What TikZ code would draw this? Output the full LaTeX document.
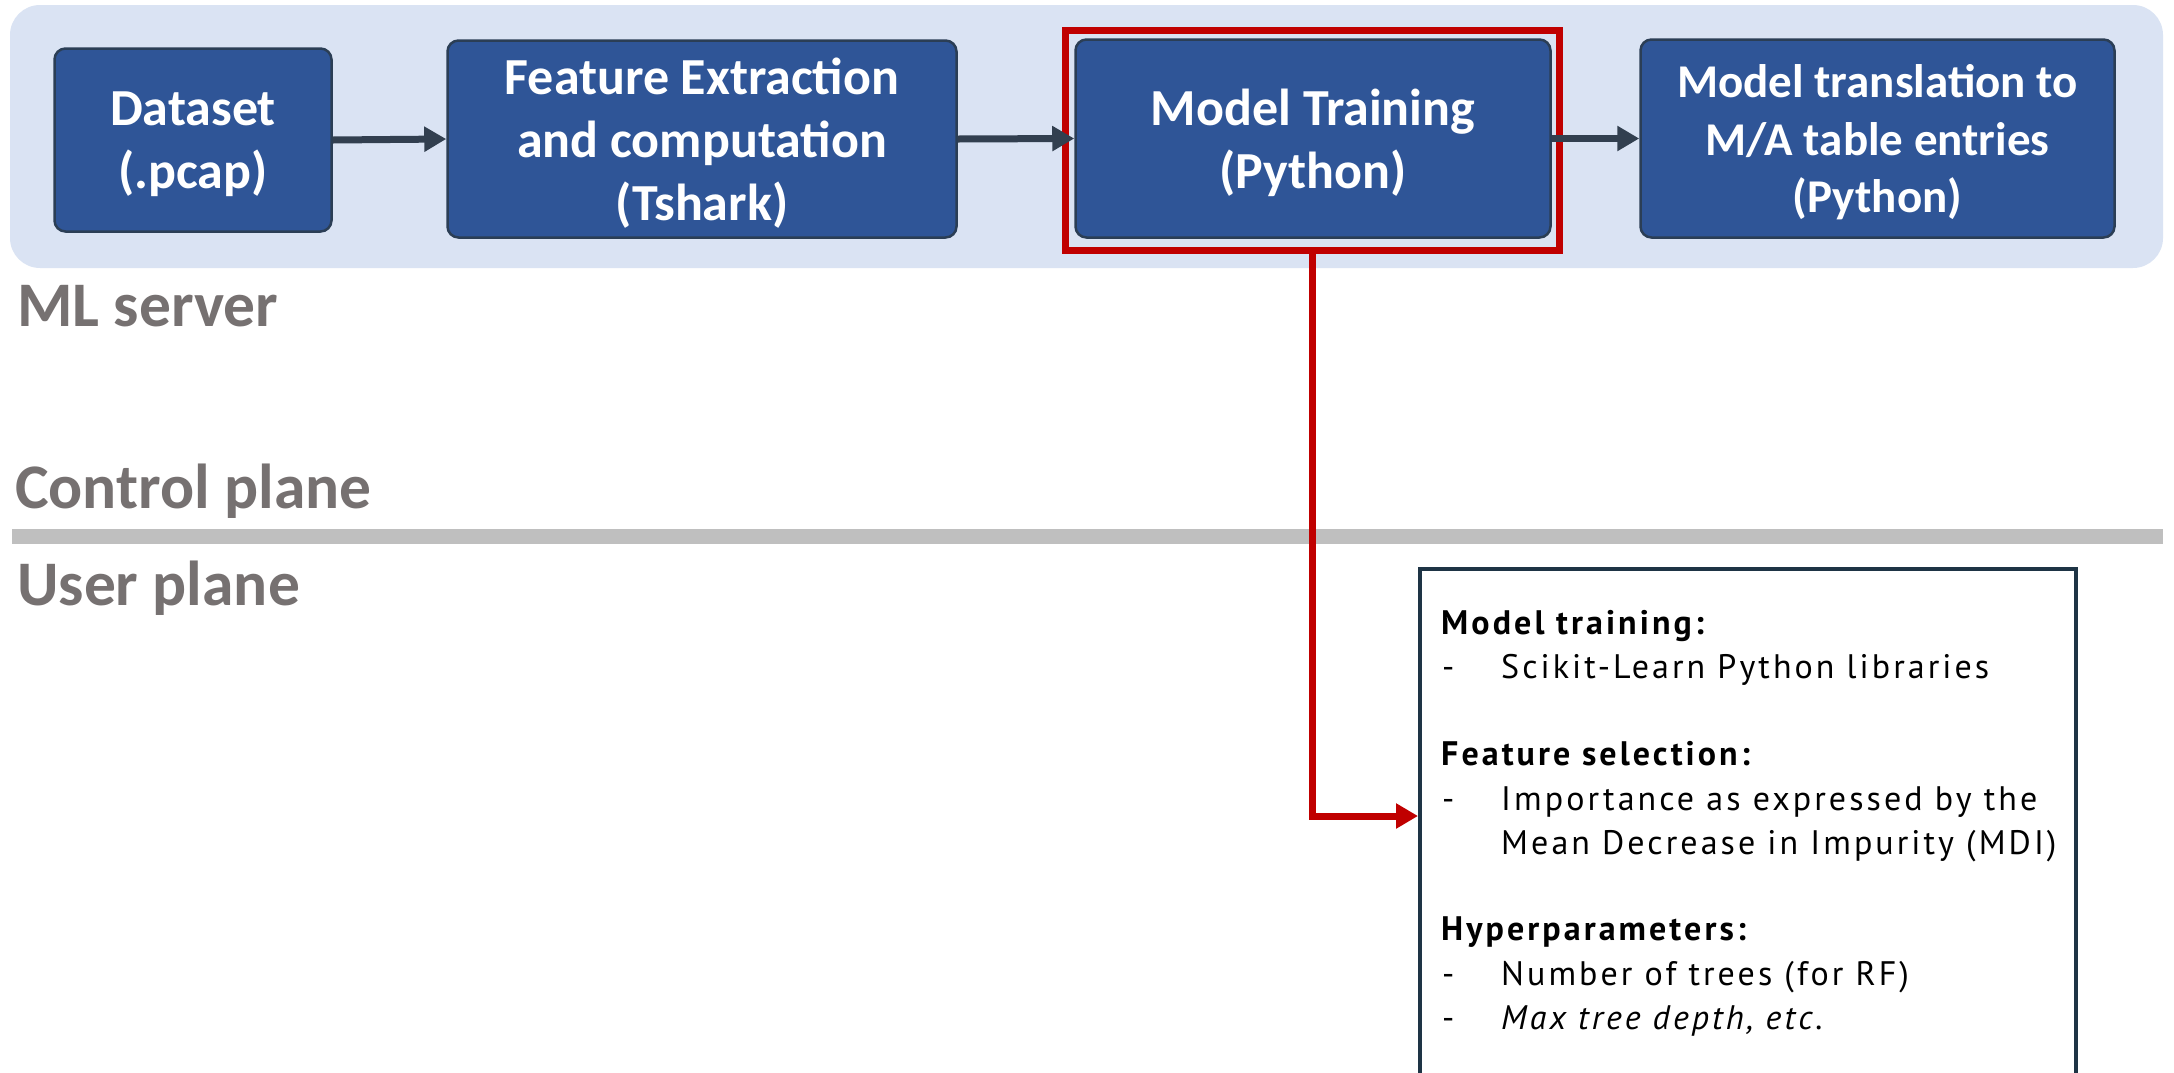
\documentclass[tikz,border=0pt]{standalone}
\usepackage{fontspec}
\setmainfont{Carlito}
\newfontfamily\notefont[LetterSpace=9]{PT Sans}
\usetikzlibrary{arrows.meta}
\definecolor{panel}{HTML}{DAE3F3}
\definecolor{stepfill}{HTML}{2F5597}
\definecolor{stepedge}{HTML}{2B3E55}
\definecolor{flow}{HTML}{323F4F}
\definecolor{hilite}{HTML}{C00000}
\definecolor{tier}{HTML}{767171}
\definecolor{divider}{HTML}{BFBFBF}
\definecolor{noteedge}{HTML}{1E3445}

\tikzset{
  stepbox/.style={rectangle, rounded corners=11pt, draw=stepedge, line width=2.5pt,
    fill=stepfill, text=white, align=center, inner sep=0pt, text depth=0pt,
    font=\bfseries\fontsize{52}{63}\selectfont},
  flowarrow/.style={draw=flow, line width=7pt, -{Triangle[length=22pt,width=24pt]}},
  tierlabel/.style={anchor=base west, inner sep=0pt, text=tier,
    font=\bfseries\fontsize{63.5}{70}\selectfont},
  noteline/.style={anchor=base west, inner sep=0pt, text=black,
    font=\notefont\fontsize{34}{44}\selectfont},
  notehead/.style={noteline, font=\notefont\bfseries\fontsize{34}{44}\selectfont},
}

\begin{document}
\begin{tikzpicture}[x=1pt,y=-1pt]
\useasboundingbox (0,0) rectangle (2174,1072);

% ML server panel
\node[fill=panel, rounded corners=30pt, minimum width=2153pt, minimum height=263pt,
      inner sep=0pt] (server) at (1086.5,136.5) {};

% processing steps
\node[stepbox, minimum width=277pt, minimum height=183pt] (ds) at (193,140) {Dataset\\(.pcap)};
\node[stepbox, minimum width=509pt, minimum height=197pt] (fe) at (702,139) {Feature Extraction\\and computation\\(Tshark)};
\node[stepbox, minimum width=475pt, minimum height=198pt] (mt) at (1313,138.5) {Model Training\\(Python)};
\node[stepbox, minimum width=474pt, minimum height=198pt,
      font=\bfseries\fontsize{47}{57.5}\selectfont] (mx) at (1877.5,138.5)
      {Model translation to\\M/A table entries\\(Python)};

% highlight around the training step
\node[draw=hilite, line width=7pt, minimum width=494pt, minimum height=220pt,
      inner sep=0pt] (focus) at (1312.5,140.5) {};

% plane labels and divider
\node[tierlabel] (mlserver) at (17,326) {ML server};
\node[tierlabel] (cplane) at (15,508) {Control plane};
\node[tierlabel] (uplane) at (17,605) {User plane};
\coordinate (divl) at (12,536);
\coordinate (divr) at (2163,536);
\draw[divider, line width=15pt] (divl) -- (divr);

% details of the training step
\node[draw=noteedge, line width=3.5pt, minimum width=656pt, minimum height=560pt,
      inner sep=0pt, anchor=north west] (note) at (1418,567) {};
\coordinate (tin) at ([yshift=-249pt]note.north west);

\node[notehead] (h1) at (1441,634) {Model training:};
\node[noteline] (d1) at (1442,678) {-};
\node[noteline] (i1) at (1501,678) {Scikit-Learn Python libraries};
\node[notehead] (h2) at (1441,765) {Feature selection:};
\node[noteline] (d2) at (1442,810) {-};
\node[noteline] (i2) at (1501,810) {Importance as expressed by the};
\node[noteline] (i3) at (1501,854) {Mean Decrease in Impurity (MDI)};
\node[notehead] (h3) at (1441,940) {Hyperparameters:};
\node[noteline] (d4) at (1442,985) {-};
\node[noteline] (i4) at (1501,985) {Number of trees (for RF)};
\node[noteline] (d5) at (1442,1029) {-};
\node[noteline] (i5) at (1501,1029) {\itshape Max tree depth, etc.};

% connectors
\draw[hilite, line width=7pt, -{Triangle[length=22pt,width=24pt]}] (focus.south) |- (tin);
\draw[flowarrow] (ds.east) -- (fe.west);
\draw[flowarrow] (fe.east) -- (mt.west);
\draw[flowarrow] (mt.east) -- (mx.west);
\end{tikzpicture}
\end{document}
